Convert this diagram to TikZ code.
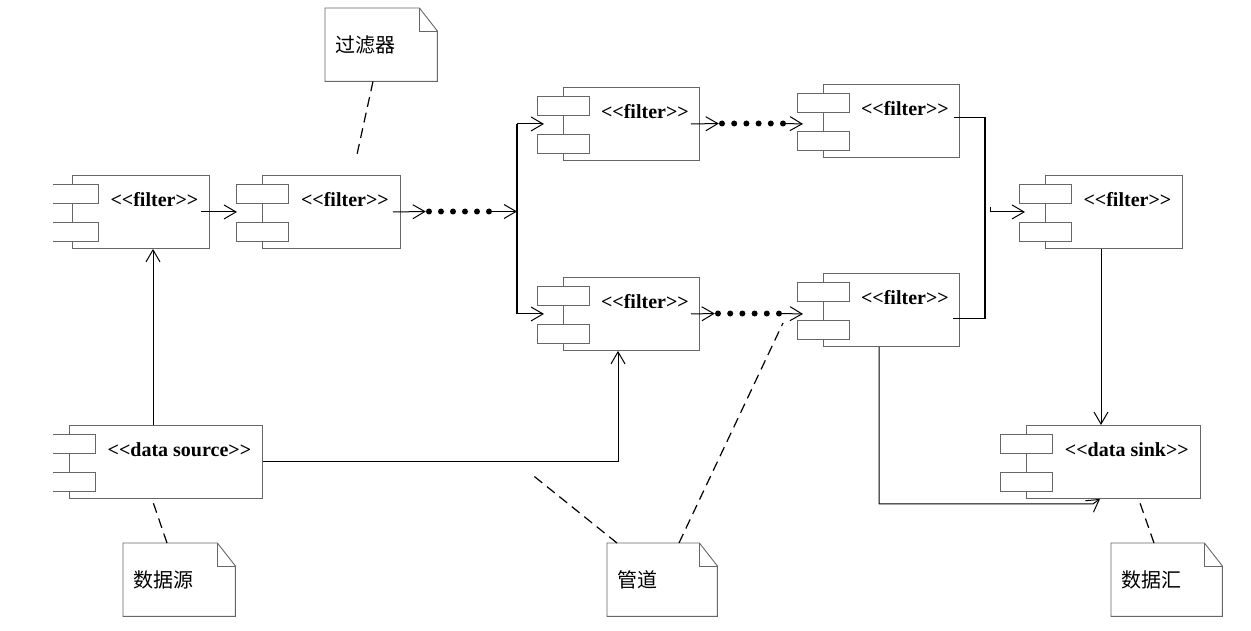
\documentclass[tikz,border=0pt]{standalone}
\usepackage{fontspec}
\newfontfamily\lblfont{Liberation Serif}
\newfontfamily\cjk{Noto Sans CJK SC}
\usepackage{tikz}
\usetikzlibrary{arrows.meta,calc}

\begin{document}
\begin{tikzpicture}[x=1pt,y=-1pt,
    compbox/.style={draw=black!60,line width=0.9pt,anchor=north west,minimum height=73pt,inner sep=0pt},
    comptab/.style={draw=black!60,line width=0.9pt,fill=white,anchor=north west,minimum width=52pt,minimum height=19pt,inner sep=0pt},
    stereo/.style={anchor=base,inner sep=0pt,font=\lblfont\fontsize{20}{24}\selectfont\bfseries},
    notebox/.style={anchor=north west,minimum height=73pt,inner sep=0pt},
    notetext/.style={anchor=west,inner sep=0pt,font=\cjk\fontsize{20}{24}\selectfont},
    noteline/.style={draw=black!60,line width=0.9pt},
    noteedge/.style={dash pattern=on 10pt off 6pt,line width=1.2pt},
    arr/.style={-{Straight Barb[length=12pt,width=14pt]},line width=1pt},
    bus/.style={line width=1.5pt},
    dot/.style={circle,fill,inner sep=0pt,minimum size=6pt}]
  \useasboundingbox (0,0) rectangle (1251,631);
  \begin{scope}
    \clip (53,0) rectangle (1251,631);
    % components: name/left/top/width/stereotype
    \foreach \n/\x/\y/\w/\t in {c1/72/175/137/filter, c2/262/175/138/filter,
        c3/563/87/136/filter, c4/563/277/136/filter, c5/823/84/136/filter,
        c6/823/273/136/filter, c7/1045/175/137/filter,
        src/69/425/193/data source, snk/1026/425/174/data sink} {
      \node[compbox,minimum width=\w pt] (\n) at (\x,\y) {};
      \node[comptab] (\n-a) at ($(\n.north west)+(-26,9)$) {};
      \node[comptab] (\n-b) at ($(\n.north west)+(-26,47)$) {};
      \node[stereo] (\n-l) at ($(\n-a.north east)!0.5!(\n.north east)+(0,27)$) {<<\t>>};
    }
  \end{scope}

  % source feeds both ends
  \draw[arr] ($(src.north west)+(84,0)$) -- ($(c1.south west)+(81,0)$);
  \draw[arr] (src.east) -| ($(c4.south west)+(55,0)$);
  \draw[arr] ($(c1.east)+(-9,0)$) -- ($(c2-a.west |- c2.west)+(1,0)$);

  % dotted pipes
  \foreach \i in {0,...,5} {
    \node[dot] (pa\i) at (429+12*\i,211.5) {};
    \node[dot] (pb\i) at (722+12.2*\i,123.5) {};
    \node[dot] (pc\i) at (718+12.2*\i,313.5) {};
  }
  \coordinate (lb1) at ($(c3-a.west |- c3.west)+(-20,0)$);
  \coordinate (lb2) at (lb1 |- c4.west);
  \draw[arr] ($(c2.east)+(-8,0)$) -- (pa0);
  \draw[arr] (pa5.center) -- (lb1 |- pa5);
  \draw[bus] (lb1) -- (lb2);
  \draw[arr] (lb1) -- ($(c3-a.west |- c3.west)+(7,0)$);
  \draw[arr] (lb2) -- ($(c4-a.west |- c4.west)+(7,0)$);
  \draw[arr] ($(c3.east)+(-9,0)$) -- (pb0);
  \draw[arr] (pb5.center) -- ($(c5-a.west |- c3.west)+(6,0)$);
  \draw[arr] ($(c4.east)+(-9,0)$) -- (pc0);
  \draw[arr] (pc5.center) -- ($(c6-a.west |- c4.west)+(6,0)$);

  % right-hand join and the sink
  \coordinate (rb) at ($(c6.east)+(25,8.5)$);
  \draw[bus] ($(c5.east)+(-6,-3.5)$) -| (rb) -- ($(c6.east)+(-7,8.5)$);
  \draw[arr] ($(c7.west)+(-55,-4.5)$) |- ($(c7-a.west |- c7.west)+(6,0)$);
  \draw[arr] ($(c7.south west)+(56,0)$) -- ($(snk.north west)+(75,0)$);
  \draw[arr] ($(c6.south west)+(56,0)$) |- ($(snk.south west)+(67,5)$) -- ($(snk.south west)+(74,0)$);

  % notes: name/left/top/width/text
  \foreach \m/\x/\y/\w/\t in {n1/325/8/112/过滤器, n2/123/543/112/数据源,
      n3/607/543/110/管道, n4/1111/543/111/数据汇} {
    \node[notebox,minimum width=\w pt] (\m) at (\x,\y) {};
    \node[notetext] (\m-t) at ($(\m.west)+(10,0)$) {\t};
    \draw[noteline] (\m.north west) -- ($(\m.north east)+(-18,0)$)
      -- ($(\m.north east)+(0,23)$) |- (\m.south west) -- cycle;
    \draw[noteline] ($(\m.north east)+(-18,0)$) |- ($(\m.north east)+(0,23)$);
  }
  \coordinate (f1) at (356,159);
  \coordinate (f2) at (153,502);
  \coordinate (f3) at (530,473);
  \coordinate (f4) at (783,323);
  \coordinate (f5) at (1140,503);
  \draw[noteedge] ($(n1.south west)+(48,0)$) -- (f1);
  \draw[noteedge] ($(n2.north west)+(44,0)$) -- (f2);
  \draw[noteedge] ($(n3.north west)+(10,0)$) -- (f3);
  \draw[noteedge] ($(n3.north west)+(72,0)$) -- (f4);
  \draw[noteedge] ($(n4.north west)+(43,0)$) -- (f5);
\end{tikzpicture}
\end{document}
